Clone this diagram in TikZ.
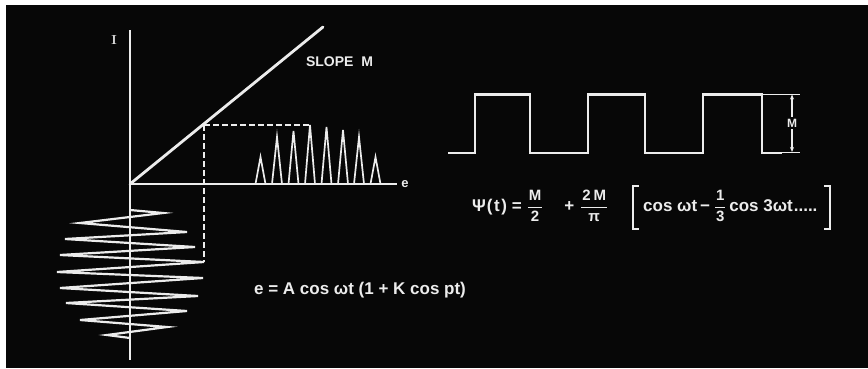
\documentclass[tikz,border=0pt]{standalone}
\usepackage{fontspec}
\setsansfont{Liberation Sans}
\usetikzlibrary{arrows.meta}
\definecolor{ink}{HTML}{ECECEC}
\definecolor{bg}{HTML}{070707}
\tikzset{
  axisline/.style={draw=ink, line width=1.8pt},
  thickline/.style={draw=ink, line width=2.8pt, line join=miter},
  waveline/.style={draw=ink, line width=2.2pt, line join=miter},
  spikeline/.style={draw=ink, line width=1.7pt, line join=miter},
  dashline/.style={draw=ink, line width=1.5pt, dash pattern=on 6pt off 3pt},
  thinline/.style={draw=ink, line width=1.2pt},
  lbl/.style={text=ink, inner sep=0pt, font=\sffamily\bfseries},
}
\setlength{\arrayrulewidth}{1pt}
\newcommand\fr[2]{{\fontsize{15}{15}\selectfont\renewcommand\arraystretch{1.05}%
  \begin{tabular}{@{\hspace{1pt}}c@{\hspace{1pt}}}#1\\[1pt]\hline\rule{0pt}{14pt}#2\end{tabular}}}
\begin{document}
\begin{tikzpicture}[x=1pt,y=-1pt]
\useasboundingbox (0,0) rectangle (868,368);
\fill[white] (0,0) rectangle (868,368);
\fill[bg] (6,5) rectangle (868,368);

% axes
\coordinate (O) at (130,184);
\coordinate (Itop) at (130,30);
\coordinate (Ibot) at (130,360);
\coordinate (Eend) at (397,184);
\draw[axisline] (Itop) -- (Ibot);
\draw[axisline] (O) -- (Eend);
\node[lbl, font=\rmfamily\bfseries\fontsize{13}{13}\selectfont] (ilabel) at (114,40) {I};
\node[lbl, font=\sffamily\bfseries\fontsize{13}{13}\selectfont] (elabel) at (405,184) {e};

% slope line
\coordinate (S) at (323,27);
\draw[thickline, line cap=round] (O) -- (S);
\node[lbl, font=\sffamily\bfseries\fontsize{14}{14}\selectfont] (slope) at (339.5,62) {SLOPE\ \ M};

% dashed projection
\coordinate (P) at (204,125);
\coordinate (Q) at (310,125);
\coordinate (R) at (204,262);
\draw[dashline] (P) -- (Q);
\draw[dashline] (P) -- (R);

% output pulses
\draw[spikeline]
  (255.5,184) -- (260.5,157) -- (265.5,184)
  (272,184) -- (277,137) -- (282,184)
  (288.5,184) -- (293.5,131) -- (298.5,184)
  (305,184) -- (310,125) -- (315,184)
  (321.5,184) -- (326.5,127) -- (331.5,184)
  (338,184) -- (343,130) -- (348,184)
  (354,184) -- (359,137) -- (364,184)
  (370.5,184) -- (375.5,157) -- (380.5,184);

% input modulated wave
\draw[waveline] (130,210) -- (163,213) -- (80,223) -- (187,232) -- (65,239)
  -- (195,247) -- (60,255) -- (R) -- (57,272) -- (203,278) -- (60,288)
  -- (198,296) -- (66,303) -- (187,311) -- (80,320) -- (167,327)
  -- (107,335) -- (130,338);

\node[lbl, font=\sffamily\bfseries\fontsize{17}{17}\selectfont] (eq1) at (360,290)
  {e = A cos ωt (1 + K cos pt)};

% square wave
\draw[thickline] (448,153) -- (475,153) -- (475,94.5) -- (530,94.5) -- (530,153)
  -- (588,153) -- (588,94.5) -- (645,94.5) -- (645,153) -- (703,153)
  -- (703,94.5) -- (762,94.5) -- (762,153) -- (782,153);
\coordinate (Mt) at (792,94.5);
\coordinate (Mb) at (792,152);
\draw[thinline] (762,94.5) -- (800,94.5);
\draw[thinline] (780,152.5) -- (800,152.5);
\draw[thinline, {Stealth[length=5pt,width=4pt]}-{Stealth[length=5pt,width=4pt]}] (Mt) -- (Mb);
\node[lbl, fill=bg, inner ysep=2pt, font=\sffamily\bfseries\fontsize{12}{12}\selectfont] (mlabel) at (792,123) {M};

% Fourier series
\node[lbl, font=\sffamily\bfseries\fontsize{17}{17}\selectfont, anchor=west] (lhs) at (472,208)
  {Ψ\kern1pt(\kern1.5pt t\kern1.5pt)\kern5pt=\kern6pt\fr{M}{2}\kern22pt+\kern7pt\fr{2\kern3pt M}{π}};
\node[lbl, font=\sffamily\bfseries\fontsize{17}{17}\selectfont, anchor=west] (inner) at (643,208)
  {cos ωt\,−\kern5pt\fr{1}{3}\kern4pt cos 3ωt\kern1pt.....};
\draw[thickline, line width=2.4pt] ([xshift=6pt]633,186) -- (633,186) -- (633,229) -- ([xshift=6pt]633,229);
\draw[thickline, line width=2.4pt] ([xshift=-6pt]830,186) -- (830,186) -- (830,229) -- ([xshift=-6pt]830,229);
\end{tikzpicture}
\end{document}
